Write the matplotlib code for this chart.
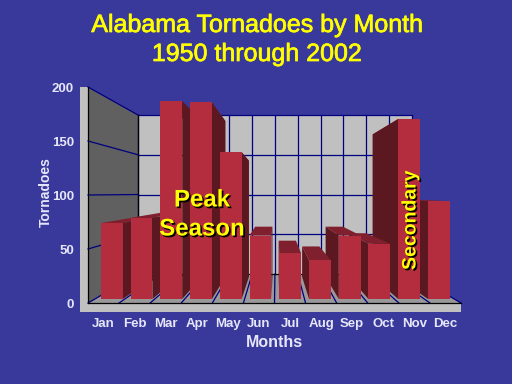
import matplotlib
matplotlib.use('Agg')
import matplotlib.pyplot as plt
import matplotlib.patheffects as pe

plt.rcParams['font.family'] = ['Liberation Sans', 'DejaVu Sans']

months = ['Jan', 'Feb', 'Mar', 'Apr', 'May', 'Jun', 'Jul', 'Aug', 'Sep', 'Oct', 'Nov', 'Dec']
tornadoes = [73, 78, 190, 189, 141, 61, 44, 37, 61, 53, 173, 94]
y_ticks = [0, 50, 100, 150, 200]

BG = '#39399c'
LIGHT = '#e6e6fa'
NAVY = '#000080'

# fake 3d: depth 0 is the front plane of the axes, depth 1 the back wall
BACK_LEFT = 1.61
BACK_RIGHT = 10.42
BACK_FLOOR = 26.85
BACK_SCALE = 0.736
BAR_FRONT = 0.138
BAR_BACK = 0.9


def project(x, v, t):
    xb = BACK_LEFT + x * (BACK_RIGHT - BACK_LEFT) / 12
    yb = BACK_FLOOR + v * BACK_SCALE
    return x + t * (xb - x), v + t * (yb - v)


def face(ax, pts, color, z):
    xy = [project(*p) for p in pts]
    ax.fill([p[0] for p in xy], [p[1] for p in xy], color=color, lw=0, zorder=z, clip_on=False)


def seg(ax, a, b, color=NAVY, lw=0.9, z=2):
    pa, pb = project(*a), project(*b)
    ax.plot([pa[0], pb[0]], [pa[1], pb[1]], color=color, lw=lw, zorder=z, clip_on=False)


fig = plt.figure(figsize=(5.12, 3.84), dpi=100, facecolor=BG)
ax = fig.add_axes([88 / 512, 81 / 384, 373 / 512, 216 / 384])
ax.set_xlim(0, 12)
ax.set_ylim(0, 200)
ax.patch.set_visible(False)
for s in ax.spines.values():
    s.set_visible(False)

# walls and floor
face(ax, [(0, 0, 1), (12, 0, 1), (12, 200, 1), (0, 200, 1)], '#c0c0c0', 1)
face(ax, [(0, 0, 0), (0, 0, 1), (0, 200, 1), (0, 200, 0)], '#606060', 1)
face(ax, [(0, 0, 0), (12, 0, 0), (12, 0, 1), (0, 0, 1)], '#999999', 1)

# light base strip along the front and left
ax.fill([-0.26, 12, 12, -0.26], [-8.5, -8.5, 0, 0], color='#c0c0c0', lw=0, zorder=1, clip_on=False)
ax.fill([-0.26, 0, 0, -0.26], [-8.5, -8.5, 200, 200], color='#c0c0c0', lw=0, zorder=1, clip_on=False)

# grid
for v in y_ticks[1:]:
    seg(ax, (0, v, 1), (12, v, 1))
    seg(ax, (0, v, 0), (0, v, 1))
for i in range(13):
    seg(ax, (i, 0, 1), (i, 200, 1))
    seg(ax, (i, 0, 0), (i, 0, 1))
seg(ax, (0, 0, 0), (0, 200, 0), color='black', z=3)
seg(ax, (0, 0, 1), (0, 200, 1), color='black', z=3)
seg(ax, (0, 0, 0), (12, 0, 0), color='black', z=3)
seg(ax, (0, 0, 1), (12, 0, 1), color='black', z=3)

# bars, outside ones first so the middle ones sit on top
order = [0, 1, 2, 3, 4, 5, 11, 10, 9, 8, 7, 6]
z = 10
for i in order:
    x0 = 0.2 + i * 0.993
    x1 = x0 + 0.73
    v = tornadoes[i]
    f, b = BAR_FRONT, BAR_BACK
    face(ax, [(x0, v, f), (x1, v, f), (x1, v, b), (x0, v, b)], '#80202e', z)
    if i < 6:
        face(ax, [(x1, 0, f), (x1, 0, b), (x1, v, b), (x1, v, f)], '#5c1820', z)
    else:
        face(ax, [(x0, 0, f), (x0, 0, b), (x0, v, b), (x0, v, f)], '#5c1820', z)
    face(ax, [(x0, 0, f), (x1, 0, f), (x1, v, f), (x0, v, f)], '#b32d3f', z)
    z += 1

# axes text
ax.set_xticks([i + 0.5 for i in range(12)])
ax.set_xticklabels(months)
ax.set_yticks(y_ticks)
ax.tick_params(length=0, colors=LIGHT, labelsize=9.5, pad=4)
ax.tick_params(axis='y', pad=10)
ax.tick_params(axis='x', pad=11)
for lab in ax.get_xticklabels() + ax.get_yticklabels():
    lab.set_fontweight('bold')
ax.set_xlabel('Months', color=LIGHT, fontsize=11.5, fontweight='bold')
ax.xaxis.set_label_coords(0.499, -0.15)
ax.set_ylabel('Tornadoes', color=LIGHT, fontsize=10, fontweight='bold')
ax.yaxis.set_label_coords(-0.095, 0.514)

title_fx = [pe.withStroke(linewidth=0.5, foreground='#ffff00')]
for txt, y in [('Alabama Tornadoes by Month', 25), ('1950 through 2002', 54)]:
    t = fig.text(257 / 512, 1 - y / 384, txt, color='#ffff00', fontsize=18, ha='center', va='center')
    t.set_path_effects(title_fx)

shadow = [pe.withSimplePatchShadow(offset=(1.2, -1.2), shadow_rgbFace='black', alpha=1.0)]
for txt, y in [('Peak', 200), ('Season', 229)]:
    t = fig.text(202 / 512, 1 - y / 384, txt, color='#ffff00', fontsize=17.3, fontweight='bold',
                 ha='center', va='center', zorder=50)
    t.set_path_effects(shadow)
t = fig.text(411 / 512, 1 - 220 / 384, 'Secondary', color='#ffff00', fontsize=14, fontweight='bold',
             rotation=90, ha='center', va='center', zorder=50)
t.set_path_effects(shadow)

fig.savefig('out.png', dpi=100, facecolor=BG)
